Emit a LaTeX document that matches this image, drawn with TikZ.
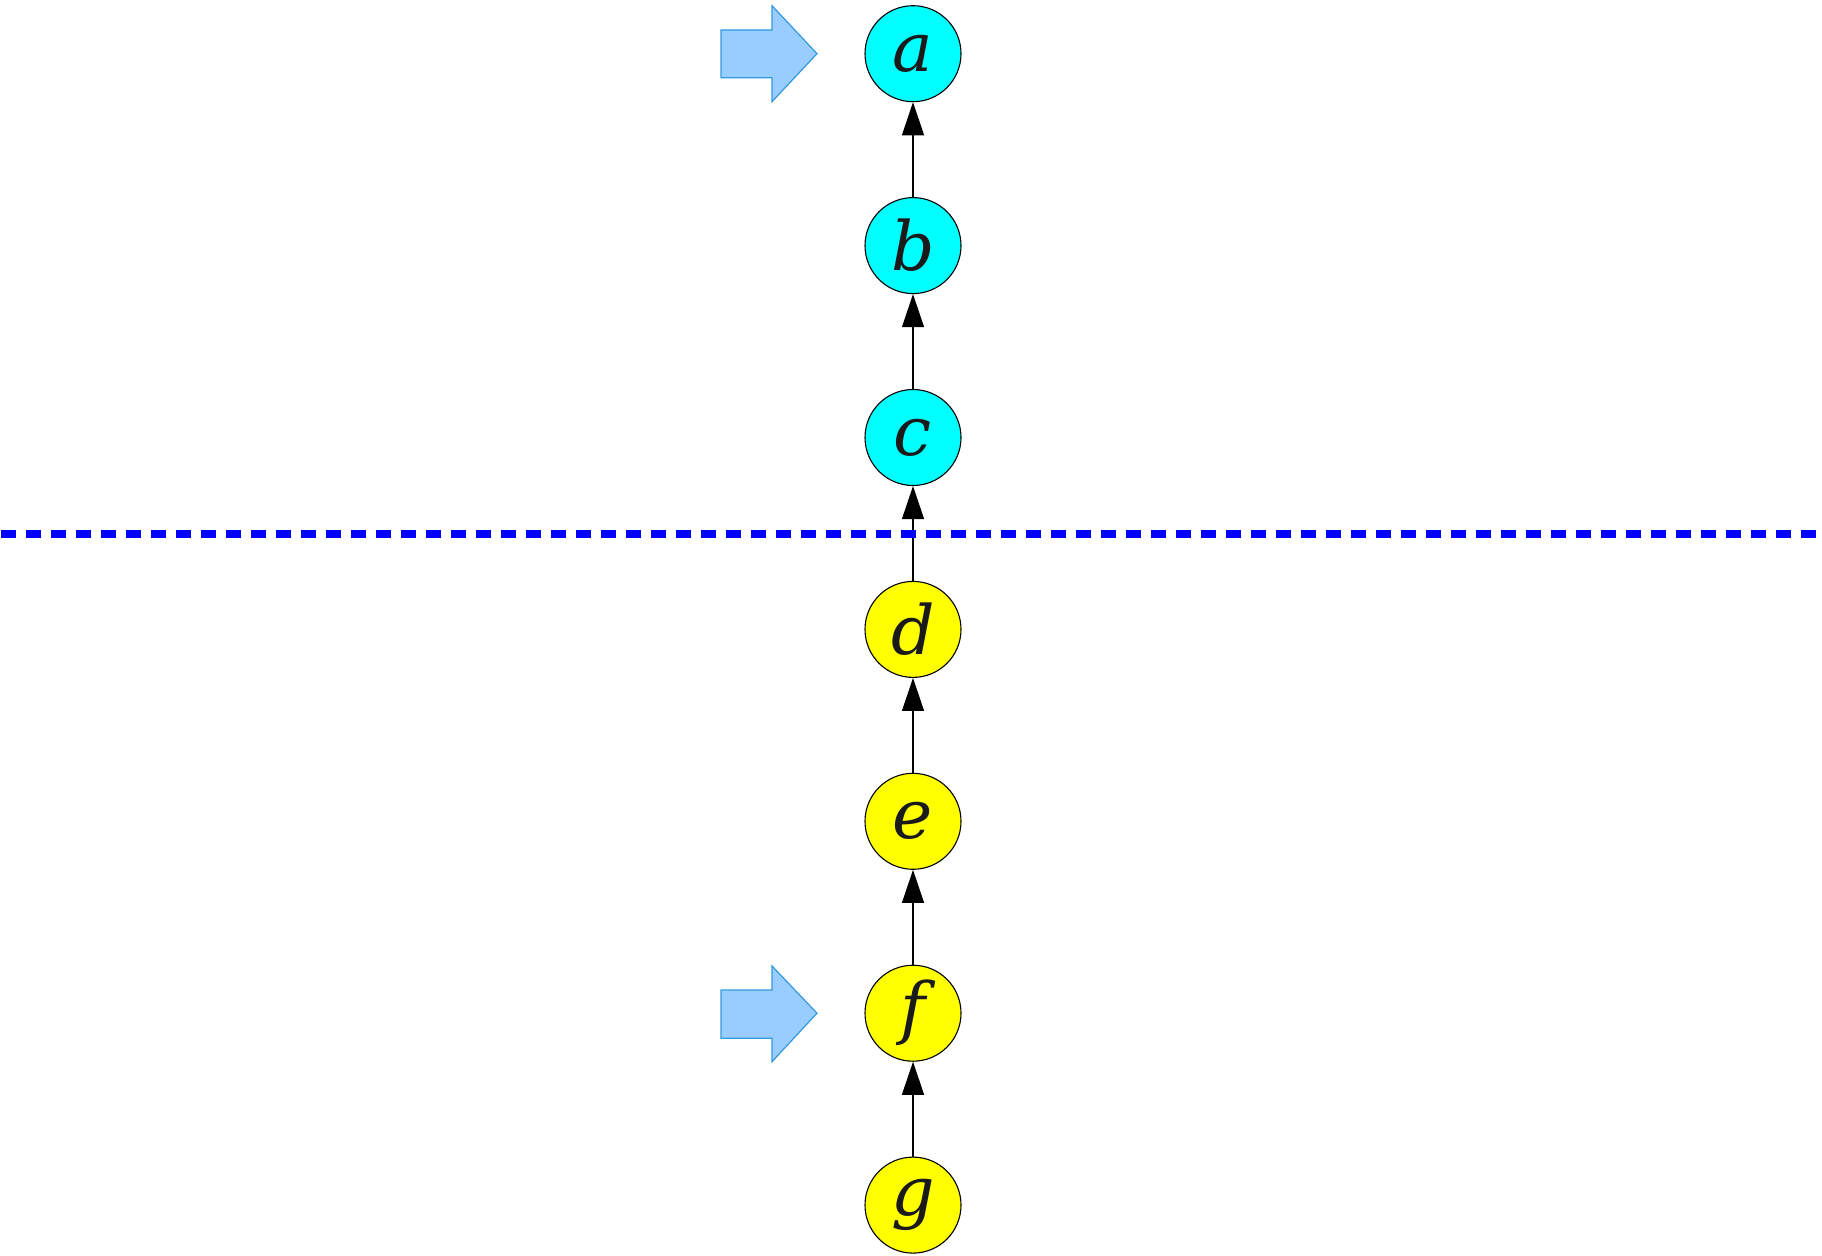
\documentclass[tikz,border=0pt]{standalone}
\usepackage{fontspec}
\setmainfont{DejaVu Serif}
\usetikzlibrary{arrows.meta}
\definecolor{nodecyan}{HTML}{00FFFF}
\definecolor{nodeyellow}{HTML}{FFFF00}
\definecolor{blockfill}{HTML}{99CCFF}
\definecolor{blockdraw}{HTML}{3399DD}
\definecolor{letter}{HTML}{1A1A1A}
\tikzset{
  vert/.style={circle, draw=black, line width=1.1pt, minimum size=96pt, inner sep=0pt,
    font=\fontsize{68}{68}\selectfont\itshape, text=letter},
  topv/.style={vert, fill=nodecyan},
  botv/.style={vert, fill=nodeyellow},
  edgearrow/.style={line width=1.1pt, -{Triangle[length=33pt,width=22pt]}},
  blockarrow/.style={fill=blockfill, draw=blockdraw, line width=1.2pt, line join=miter},
  cutline/.style={draw=blue, line width=7.5pt, dash pattern=on 15pt off 10pt}
}
\begin{document}
\begin{tikzpicture}[x=1pt,y=-1pt]
\useasboundingbox (0,0) rectangle (1822,1255);
\node[topv] (a) at (913,53.7) {a};
\node[topv] (b) at (913,245.6) {b};
\node[topv] (c) at (913,437.5) {c};
\node[botv] (d) at (913,629.4) {d};
\node[botv] (e) at (913,821.3) {e};
\node[botv] (f) at (913,1013.2) {f};
\node[botv] (g) at (913,1205.1) {g};
\draw[edgearrow] (b) -- (a);
\draw[edgearrow] (c) -- (b);
\draw[edgearrow] (d) -- (c);
\draw[edgearrow] (e) -- (d);
\draw[edgearrow] (f) -- (e);
\draw[edgearrow] (g) -- (f);
\draw[cutline] (1,534) coordinate (cutL) -- (1816,534) coordinate (cutR);
\draw[blockarrow] (721,30) -- (772,30) -- (772,5.7) -- (817,53.7) -- (772,101.7) -- (772,77.7) -- (721,77.7) -- cycle;
\draw[blockarrow] (721,990) -- (772,990) -- (772,966) -- (817,1013.2) -- (772,1061.7) -- (772,1038.3) -- (721,1038.3) -- cycle;
\end{tikzpicture}
\end{document}
